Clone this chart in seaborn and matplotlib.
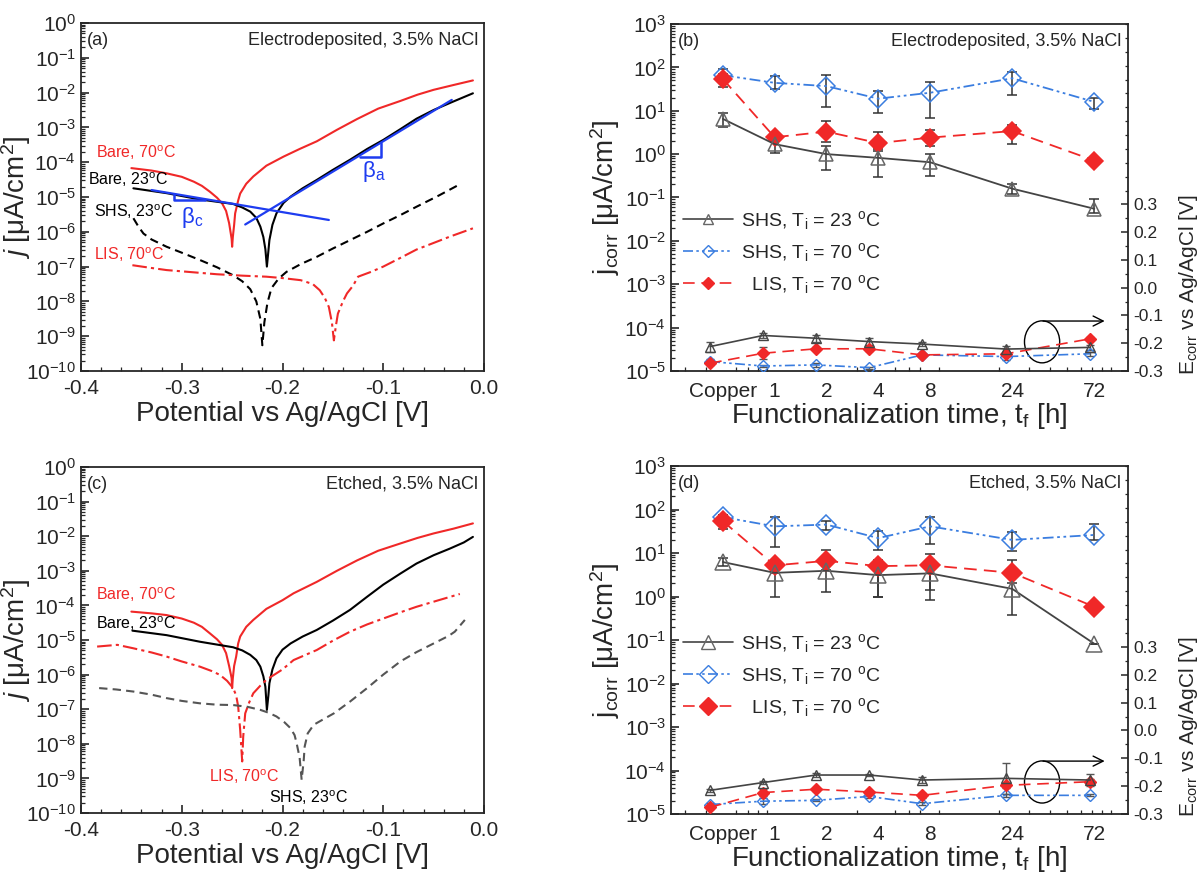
import numpy as np
import pandas as pd
import matplotlib
matplotlib.use("Agg")
import matplotlib.pyplot as plt
import seaborn as sns
from matplotlib.patches import Ellipse
from matplotlib.lines import Line2D
from matplotlib.ticker import MultipleLocator, NullLocator, NullFormatter, LogLocator, FixedLocator

# ---------------- Panel (a): Electrodeposited, E [V] vs log10 j ----------------
a_bare70_E = [-0.350, -0.330, -0.315, -0.300, -0.288, -0.280, -0.272, -0.265, -0.260, -0.256,
              -0.253, -0.2505, -0.250, -0.2493, -0.248, -0.247, -0.244, -0.242, -0.236, -0.229,
              -0.216, -0.199, -0.183, -0.166, -0.146, -0.126, -0.105, -0.083, -0.066, -0.050,
              -0.030, -0.011]
a_bare70_logj = [-4.17, -4.24, -4.32, -4.42, -4.56, -4.68, -4.85, -5.02, -5.18, -5.40,
                 -5.75, -6.20, -6.43, -6.15, -5.80, -5.47, -5.10, -4.90, -4.62, -4.41,
                 -4.10, -3.84, -3.62, -3.40, -3.07, -2.76, -2.46, -2.24, -2.06, -1.92,
                 -1.78, -1.65]
a_bare23_E = [-0.348, -0.315, -0.282, -0.249, -0.240, -0.232, -0.226, -0.222, -0.219, -0.217,
              -0.2155, -0.214, -0.213, -0.210, -0.206, -0.199, -0.192, -0.180, -0.166, -0.150,
              -0.133, -0.116, -0.100, -0.083, -0.067, -0.050, -0.034, -0.011]
a_bare23_logj = [-4.75, -4.89, -5.07, -5.20, -5.30, -5.42, -5.60, -5.85, -6.15, -6.50,
                 -7.00, -6.55, -6.24, -5.80, -5.47, -5.17, -4.99, -4.75, -4.51, -4.22,
                 -3.93, -3.62, -3.36, -3.05, -2.75, -2.50, -2.30, -2.02]
a_shs23_E = [-0.348, -0.343, -0.338, -0.330, -0.315, -0.300, -0.282, -0.265, -0.249, -0.240,
             -0.232, -0.226, -0.222, -0.220, -0.218, -0.215, -0.211, -0.204, -0.196, -0.182,
             -0.166, -0.150, -0.133, -0.116, -0.100, -0.083, -0.067, -0.045, -0.025]
a_shs23_logj = [-5.61, -5.85, -6.05, -6.22, -6.43, -6.60, -6.81, -7.02, -7.25, -7.42,
                -7.65, -8.00, -8.50, -9.26, -8.60, -8.05, -7.62, -7.35, -7.15, -6.93,
                -6.72, -6.48, -6.24, -6.00, -5.76, -5.52, -5.28, -4.96, -4.65]
a_lis70_E = [-0.349, -0.330, -0.315, -0.290, -0.265, -0.240, -0.216, -0.200, -0.182, -0.170,
             -0.163, -0.158, -0.154, -0.151, -0.149, -0.147, -0.145, -0.140, -0.136, -0.130,
             -0.125, -0.112, -0.100, -0.083, -0.067, -0.050, -0.034, -0.011]
a_lis70_logj = [-6.96, -7.04, -7.10, -7.16, -7.22, -7.26, -7.29, -7.33, -7.39, -7.50,
                -7.68, -7.90, -8.16, -8.60, -9.12, -8.70, -8.35, -8.00, -7.77, -7.55,
                -7.29, -7.15, -7.00, -6.75, -6.51, -6.32, -6.14, -5.90]
# Tafel fit lines (blue) and slope triangles
tafel_c_E = [-0.330, -0.154]
tafel_c_logj = [-4.80, -5.66]
tafel_a_E = [-0.237, -0.032]
tafel_a_logj = [-5.79, -2.21]
tri_c_E = [-0.308, -0.308, -0.2767]
tri_c_logj = [-4.907, -5.086, -5.086]
tri_a_E = [-0.123, -0.1021, -0.1021]
tri_a_logj = [-3.839, -3.839, -3.455]

# ---------------- Panel (c): Etched ----------------
c_bare70_E = [-0.350, -0.330, -0.315, -0.300, -0.288, -0.280, -0.272, -0.265, -0.260, -0.256,
              -0.253, -0.2505, -0.250, -0.2493, -0.248, -0.246, -0.244, -0.242, -0.236, -0.229,
              -0.216, -0.200, -0.189, -0.166, -0.146, -0.126, -0.105, -0.083, -0.066, -0.050,
              -0.030, -0.011]
c_bare70_logj = [-4.18, -4.23, -4.28, -4.38, -4.50, -4.62, -4.81, -4.98, -5.14, -5.38,
                 -5.75, -6.10, -6.39, -6.10, -5.75, -5.48, -5.10, -4.90, -4.62, -4.42,
                 -4.10, -3.85, -3.65, -3.32, -3.00, -2.70, -2.42, -2.21, -2.05, -1.92,
                 -1.78, -1.63]
c_bare23_E = [-0.349, -0.315, -0.282, -0.249, -0.240, -0.232, -0.226, -0.222, -0.219, -0.217,
              -0.2155, -0.214, -0.213, -0.210, -0.206, -0.200, -0.192, -0.180, -0.166, -0.150,
              -0.133, -0.116, -0.100, -0.083, -0.067, -0.050, -0.034, -0.020, -0.011]
c_bare23_logj = [-4.73, -4.86, -5.05, -5.21, -5.30, -5.43, -5.58, -5.77, -6.05, -6.35,
                 -7.02, -6.60, -6.25, -5.85, -5.53, -5.28, -5.10, -4.90, -4.71, -4.44,
                 -4.13, -3.75, -3.40, -3.08, -2.79, -2.55, -2.36, -2.18, -2.02]
c_lis70_E = [-0.384, -0.364, -0.348, -0.330, -0.315, -0.300, -0.282, -0.270, -0.262, -0.255,
             -0.249, -0.246, -0.244, -0.242, -0.240, -0.239, -0.237, -0.233, -0.229, -0.222,
             -0.216, -0.200, -0.189, -0.166, -0.150, -0.133, -0.116, -0.100, -0.083, -0.067,
             -0.045, -0.024]
c_lis70_logj = [-5.19, -5.14, -5.24, -5.36, -5.48, -5.62, -5.77, -5.90, -6.01, -6.18,
                -6.39, -6.60, -6.92, -7.60, -8.51, -7.80, -7.12, -6.80, -6.54, -6.32,
                -6.15, -5.85, -5.58, -5.29, -5.02, -4.76, -4.55, -4.38, -4.20, -4.04,
                -3.85, -3.67]
c_shs23_E = [-0.382, -0.365, -0.348, -0.330, -0.315, -0.300, -0.282, -0.265, -0.249, -0.235,
             -0.222, -0.214, -0.206, -0.198, -0.192, -0.188, -0.186, -0.183, -0.181, -0.179,
             -0.178, -0.175, -0.169, -0.160, -0.149, -0.133, -0.116, -0.100, -0.083, -0.067,
             -0.050, -0.035, -0.029, -0.019]
c_shs23_logj = [-6.39, -6.43, -6.49, -6.58, -6.68, -6.76, -6.83, -6.87, -6.88, -6.93,
                -7.02, -7.10, -7.21, -7.38, -7.55, -7.75, -7.98, -8.40, -9.04, -8.50,
                -8.08, -7.70, -7.45, -7.30, -7.12, -6.78, -6.39, -6.00, -5.62, -5.35,
                -5.10, -4.88, -4.76, -4.42]

# ---------------- Panels (b), (d): j_corr and E_corr vs functionalization time ----------------
t_h = [0.5, 1, 2, 4, 8, 24, 72]
t_labels = ["Copper", "1", "2", "4", "8", "24", "72"]

b_shs23_j = [6.5, 1.7, 1.0, 0.82, 0.65, 0.16, 0.055]
b_shs23_lo = [4.3, 1.05, 0.43, 0.29, 0.32, 0.12, 0.043]
b_shs23_hi = [8.7, 2.2, 1.5, 1.2, 1.0, 0.21, 0.09]
b_shs70_j = [66, 44, 37, 19, 26, 56, 16]
b_shs70_lo = [49, 32, 12, 8.7, 6.8, 23.6, 11]
b_shs70_hi = [92, 62, 65, 29, 45, 77, 20]
b_lis70_j = [54, 2.45, 3.3, 1.8, 2.4, 3.4, 0.71]
b_lis70_lo = [35, 2.1, 1.86, 1.3, 1.5, 1.7, 0.71]
b_lis70_hi = [70, 2.9, 5.9, 3.2, 3.6, 4.6, 0.71]

b_shs23_E = [-0.212, -0.172, -0.182, -0.194, -0.203, -0.221, -0.215]
b_shs23_Eerr = [0.018, 0.008, 0.012, 0.012, 0.006, 0.010, 0.008]
b_shs70_E = [-0.266, -0.282, -0.278, -0.288, -0.242, -0.248, -0.238]
b_shs70_Eerr = [0.008, 0.005, 0.006, 0.004, 0.004, 0.012, 0.008]
b_lis70_E = [-0.272, -0.236, -0.220, -0.220, -0.242, -0.238, -0.184]
b_lis70_Eerr = [0.006, 0.022, 0.006, 0.008, 0.004, 0.008, 0.005]

d_shs23_j = [6.2, 3.5, 3.9, 3.1, 3.4, 1.5, 0.082]
d_shs23_lo = [5.0, 1.0, 1.3, 0.95, 0.85, 0.37, 0.082]
d_shs23_hi = [7.5, 5.5, 5.0, 4.0, 5.5, 4.5, 0.082]
d_shs70_j = [67, 41, 45, 22, 41, 20, 26]
d_shs70_lo = [55, 14, 34, 11.5, 16, 11, 20]
d_shs70_hi = [75, 69, 55, 32, 67, 30, 47]
d_lis70_j = [54, 5.2, 6.6, 5.0, 5.2, 3.5, 0.58]
d_lis70_lo = [36, 3.5, 4.0, 1.0, 1.4, 2.0, 0.58]
d_lis70_hi = [75, 7.0, 11.6, 7.0, 9.6, 6.8, 0.58]

d_shs23_E = [-0.215, -0.187, -0.160, -0.160, -0.178, -0.172, -0.178]
d_shs23_Eerr = [0.005, 0.006, 0.006, 0.004, 0.010, 0.055, 0.020]
d_shs70_E = [-0.266, -0.254, -0.251, -0.237, -0.263, -0.233, -0.233]
d_shs70_Eerr = [0.006, 0.010, 0.004, 0.004, 0.006, 0.006, 0.004]
d_lis70_E = [-0.276, -0.223, -0.211, -0.221, -0.233, -0.197, -0.184]
d_lis70_Eerr = [0.006, 0.012, 0.006, 0.005, 0.010, 0.008, 0.008]

# ---------------- style ----------------
sns.set_theme(style="ticks")
plt.rcParams["font.family"] = ["Liberation Sans", "DejaVu Sans"]
plt.rcParams["mathtext.fontset"] = "custom"
plt.rcParams["mathtext.rm"] = "Liberation Sans"
plt.rcParams["mathtext.it"] = "Liberation Sans:italic"
plt.rcParams["mathtext.default"] = "regular"
plt.rcParams["axes.unicode_minus"] = False
plt.rcParams["axes.linewidth"] = 1.3

RED = "#f02828"
BLUE_T = "#1e3cf0"
BLUE = "#3a7de0"
GRAY = "#444444"
GRAY_M = "#666666"

W, H = 1199, 875
fig = plt.figure(figsize=(W / 100, H / 100), dpi=100)


def box(l, r, t, b):
    return [l / W, 1 - b / H, (r - l) / W, (b - t) / H]


ax_a = fig.add_axes(box(81, 484, 23, 371))
ax_c = fig.add_axes(box(81, 484, 467, 813))
ax_b = fig.add_axes(box(671, 1128, 24, 371))
ax_d = fig.add_axes(box(671, 1128, 466, 814))


def curve(ax, E, logj, color, ls, lw=1.5):
    df = pd.DataFrame({"E": E, "j": np.power(10.0, np.asarray(logj))})
    sns.lineplot(data=df, x="E", y="j", ax=ax, color=color, linestyle=ls, lw=lw,
                 sort=False, estimator=None)


def polar_axes(ax, tag, title):
    ax.set_yscale("log")
    ax.set_ylim(1e-10, 1)
    ax.set_xlim(-0.4, 0.0)
    ax.yaxis.set_major_locator(FixedLocator([10.0 ** k for k in range(-10, 1)]))
    ax.yaxis.set_minor_locator(LogLocator(base=10, subs=(2, 3, 4, 5, 6, 7, 8, 9), numticks=30))
    ax.yaxis.set_minor_formatter(NullFormatter())
    ax.set_xticks([-0.4, -0.3, -0.2, -0.1, 0.0], ["-0.4", "-0.3", "-0.2", "-0.1", "0.0"])
    ax.xaxis.set_minor_locator(MultipleLocator(0.02))
    ax.tick_params(axis="both", which="both", direction="in", top=False, right=False)
    ax.tick_params(axis="both", which="major", labelsize=15, length=6, width=1.2)
    ax.tick_params(axis="x", which="major", pad=6)
    ax.tick_params(axis="both", which="minor", length=3, width=0.9)
    ax.set_xlabel("Potential vs Ag/AgCl [V]", fontsize=20, labelpad=2)
    ax.set_ylabel("$\\it{j}$ [μA/cm$^2$]", fontsize=20, labelpad=2)
    ax.yaxis.set_label_coords(-0.118, 0.5)
    ax.text(0.015, 0.975, tag, transform=ax.transAxes, ha="left", va="top", fontsize=13)
    ax.text(0.985, 0.975, title, transform=ax.transAxes, ha="right", va="top", fontsize=13)


LBL = 11.5

# ----- (a)
curve(ax_a, a_bare70_E, a_bare70_logj, RED, "-")
curve(ax_a, a_bare23_E, a_bare23_logj, "black", "-")
curve(ax_a, a_shs23_E, a_shs23_logj, "black", (0, (4, 2.5)))
curve(ax_a, a_lis70_E, a_lis70_logj, RED, (0, (7, 2, 1.5, 2)))
curve(ax_a, tafel_c_E, tafel_c_logj, BLUE_T, "-", 1.6)
curve(ax_a, tafel_a_E, tafel_a_logj, BLUE_T, "-", 1.6)
curve(ax_a, tri_c_E, tri_c_logj, BLUE_T, "-", 1.8)
curve(ax_a, tri_a_E, tri_a_logj, BLUE_T, "-", 1.8)
polar_axes(ax_a, "(a)", "Electrodeposited, 3.5% NaCl")
ax_a.text(-0.385, 10 ** -3.74, "Bare, 70$^{o}$C", color=RED, fontsize=LBL, va="center")
ax_a.text(-0.393, 10 ** -4.51, "Bare, 23$^{o}$C", color="black", fontsize=LBL, va="center")
ax_a.text(-0.387, 10 ** -5.42, "SHS, 23$^{o}$C", color="black", fontsize=LBL, va="center")
ax_a.text(-0.387, 10 ** -6.67, "LIS, 70$^{o}$C", color=RED, fontsize=LBL, va="center")
ax_a.text(-0.301, 10 ** -5.6, "β$_c$", color=BLUE_T, fontsize=16, va="center")
ax_a.text(-0.121, 10 ** -4.27, "β$_a$", color=BLUE_T, fontsize=16, va="center")

# ----- (c)
curve(ax_c, c_bare70_E, c_bare70_logj, RED, "-")
curve(ax_c, c_bare23_E, c_bare23_logj, "black", "-")
curve(ax_c, c_lis70_E, c_lis70_logj, RED, (0, (7, 2, 1.5, 2)))
curve(ax_c, c_shs23_E, c_shs23_logj, "#555555", (0, (4, 2.5)))
polar_axes(ax_c, "(c)", "Etched, 3.5% NaCl")
ax_c.text(-0.385, 10 ** -3.70, "Bare, 70$^{o}$C", color=RED, fontsize=LBL, va="center")
ax_c.text(-0.385, 10 ** -4.52, "Bare, 23$^{o}$C", color="black", fontsize=LBL, va="center")
ax_c.text(-0.273, 10 ** -8.94, "LIS, 70$^{o}$C", color=RED, fontsize=LBL, va="center")
ax_c.text(-0.213, 10 ** -9.57, "SHS, 23$^{o}$C", color="black", fontsize=LBL, va="center")


# ----- (b), (d)
def series(ax, y, lo, hi, color, ls, marker, mfc, ms, ecolor="#333333"):
    df = pd.DataFrame({"t": t_h, "y": y})
    y = np.asarray(y, float)
    err = np.vstack([y - np.asarray(lo, float), np.asarray(hi, float) - y])
    ax.errorbar(t_h, y, yerr=err, fmt="none", ecolor=ecolor, elinewidth=1.1,
                capsize=3.5, capthick=1.1, zorder=2)
    sns.lineplot(data=df, x="t", y="y", ax=ax, color=color, linestyle=ls, lw=1.3,
                 marker=marker, markersize=ms, markerfacecolor=mfc,
                 markeredgecolor=color, markeredgewidth=1.1, sort=False,
                 estimator=None, zorder=3)


def eseries(ax, y, e, color, ls, marker, mfc, ms):
    df = pd.DataFrame({"t": t_h, "y": y})
    ax.errorbar(t_h, y, yerr=e, fmt="none", ecolor="#555555", elinewidth=1.0,
                capsize=3, capthick=1.0, zorder=2)
    sns.lineplot(data=df, x="t", y="y", ax=ax, color=color, linestyle=ls, lw=1.2,
                 marker=marker, markersize=ms, markerfacecolor=mfc,
                 markeredgecolor=color, markeredgewidth=1.0, sort=False,
                 estimator=None, zorder=3)


LS_SHS70 = (0, (6, 2, 1.5, 2, 1.5, 2))
LS_LIS = (0, (7, 4))


def time_panel(ax, tag, title, data, edata, ms_main, ms_leg, leg_y, ell_y, arr_y):
    (s23, s23l, s23h), (s70, s70l, s70h), (l70, l70l, l70h) = data
    series(ax, s70, s70l, s70h, BLUE, LS_SHS70, "D", "none", ms_main)
    series(ax, l70, l70l, l70h, RED, LS_LIS, "D", RED, ms_main)
    series(ax, s23, s23l, s23h, GRAY, "-", "^", "none", ms_main + 1.5)
    for ln in ax.get_lines():
        if ln.get_color() == GRAY:
            ln.set_markeredgecolor(GRAY_M)
    ax.set_xscale("log")
    ax.set_xlim(0.25, 113)
    ax.set_yscale("log")
    ax.set_ylim(1e-5, 1e3)
    ax.yaxis.set_major_locator(FixedLocator([10.0 ** k for k in range(-5, 4)]))
    ax.yaxis.set_minor_locator(LogLocator(base=10, subs=(2, 3, 4, 5, 6, 7, 8, 9), numticks=30))
    ax.yaxis.set_minor_formatter(NullFormatter())
    ax.set_xticks(t_h, t_labels)
    ax.xaxis.set_minor_locator(LogLocator(base=10, subs=(2, 3, 4, 5, 6, 7, 8, 9), numticks=30))
    ax.xaxis.set_minor_formatter(NullFormatter())
    ax.tick_params(axis="both", which="both", direction="in", top=False, right=False)
    ax.tick_params(axis="y", which="major", labelsize=15, length=6, width=1.2)
    ax.tick_params(axis="x", which="major", labelsize=15, length=0, pad=8)
    ax.tick_params(axis="both", which="minor", length=3, width=0.9)
    ax.set_xlabel("Functionalization time, t$_f$ [h]", fontsize=20, labelpad=0)
    ax.set_ylabel("j$_{corr}$ [μA/cm$^2$]", fontsize=20, labelpad=2)
    ax.yaxis.set_label_coords(-0.108, 0.5)
    ax.text(0.015, 0.975, tag, transform=ax.transAxes, ha="left", va="top", fontsize=13)
    ax.text(0.985, 0.975, title, transform=ax.transAxes, ha="right", va="top", fontsize=13)

    # E_corr on a right-hand axis
    ax2 = fig.add_axes(ax.get_position())
    ax2.patch.set_visible(False)
    (e23, e23e), (e70, e70e), (el70, el70e) = edata
    eseries(ax2, e70, e70e, BLUE, LS_SHS70, "D", "none", 6)
    eseries(ax2, el70, el70e, RED, LS_LIS, "D", RED, 6)
    eseries(ax2, e23, e23e, GRAY, "-", "^", "none", 7)
    ax2.set_xscale("log")
    ax2.set_xlim(0.30, 118)
    ax2.set_ylim(-0.3, 0.95)
    ax2.xaxis.set_visible(False)
    for s in ax2.spines.values():
        s.set_visible(False)
    ax2.yaxis.tick_right()
    ax2.yaxis.set_label_position("right")
    ax2.set_yticks([-0.3, -0.2, -0.1, 0.0, 0.1, 0.2, 0.3],
                   ["-0.3", "-0.2", "-0.1", "0.0", "0.1", "0.2", "0.3"])
    ax2.yaxis.set_minor_locator(MultipleLocator(0.05))
    ax2.tick_params(axis="y", which="both", direction="in", left=False, right=True,
                    labelsize=12.5, pad=4)
    ax2.tick_params(axis="y", which="major", length=5, width=1.1)
    ax2.tick_params(axis="y", which="minor", length=2.5, width=0.9)
    ax2.set_ylabel("E$_{corr}$ vs Ag/AgCl [V]", fontsize=15, labelpad=4)
    ax2.yaxis.set_label_coords(1.108, 0.25)
    ax2.set_xlabel("")

    # circle with arrow pointing to right axis
    ell = Ellipse((0.812, ell_y), 0.077, 0.121, transform=ax.transAxes, fill=False,
                  ec="black", lw=1.0, zorder=5)
    ax.add_patch(ell)
    ax.annotate("", xy=(0.955, arr_y), xytext=(0.808, arr_y), xycoords="axes fraction",
                arrowprops=dict(arrowstyle="->", lw=1.0, color="black",
                                mutation_scale=18), zorder=5)

    handles = [
        Line2D([], [], color=GRAY, ls="-", lw=1.2, marker="^", ms=ms_leg + 1,
               mfc="none", mec=GRAY_M),
        Line2D([], [], color=BLUE, ls=LS_SHS70, lw=1.2, marker="D", ms=ms_leg,
               mfc="none", mec=BLUE),
        Line2D([], [], color=RED, ls=LS_LIS, lw=1.2, marker="D", ms=ms_leg,
               mfc=RED, mec=RED),
    ]
    labels = ["SHS, T$_i$ = 23 $^o$C", "SHS, T$_i$ = 70 $^o$C", "  LIS, T$_i$ = 70 $^o$C"]
    ax.legend(handles, labels, loc="upper left", bbox_to_anchor=(0.0, leg_y),
              frameon=False, fontsize=14, handlelength=2.6, handletextpad=0.4,
              labelspacing=0.45, borderaxespad=0.2)
    return ax2


time_panel(ax_b, "(b)", "Electrodeposited, 3.5% NaCl",
           [(b_shs23_j, b_shs23_lo, b_shs23_hi), (b_shs70_j, b_shs70_lo, b_shs70_hi),
            (b_lis70_j, b_lis70_lo, b_lis70_hi)],
           [(b_shs23_E, b_shs23_Eerr), (b_shs70_E, b_shs70_Eerr), (b_lis70_E, b_lis70_Eerr)],
           9, 6, 0.50, 0.084, 0.144)
time_panel(ax_d, "(d)", "Etched, 3.5% NaCl",
           [(d_shs23_j, d_shs23_lo, d_shs23_hi), (d_shs70_j, d_shs70_lo, d_shs70_hi),
            (d_lis70_j, d_lis70_lo, d_lis70_hi)],
           [(d_shs23_E, d_shs23_Eerr), (d_shs70_E, d_shs70_Eerr), (d_lis70_E, d_lis70_Eerr)],
           10, 9, 0.556, 0.092, 0.152)

fig.savefig("out.png", dpi=100)
